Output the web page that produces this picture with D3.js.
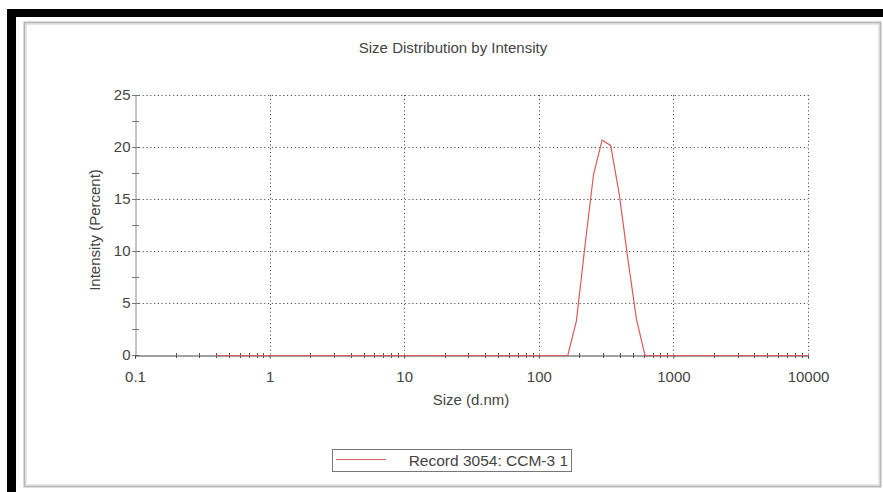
<!DOCTYPE html>
<html>
<head>
<meta charset="utf-8">
<script src="https://cdn.jsdelivr.net/npm/d3@7"></script>
<style>
  html, body { margin: 0; padding: 0; background: #fff; }
  svg { display: block; }
  text { font-family: "Liberation Sans", Arial, sans-serif; fill: #444; }
</style>
</head>
<body>
<svg id="chart" width="883" height="492"></svg>
<script>
// Size bins (d.nm), log-spaced from 0.4 to 10000
const sizes = [0.4, 0.4632, 0.5365, 0.6213, 0.7195, 0.8332, 0.9649, 1.117, 1.294, 1.499,
  1.736, 2.01, 2.328, 2.696, 3.122, 3.615, 4.187, 4.849, 5.615, 6.503,
  7.531, 8.721, 10.1, 11.7, 13.54, 15.69, 18.17, 21.04, 24.36, 28.21,
  32.67, 37.84, 43.82, 50.75, 58.77, 68.06, 78.82, 91.28, 105.7, 122.4,
  141.8, 164.2, 190.1, 220.2, 255.0, 295.3, 342.0, 396.1, 458.7, 531.2,
  615.1, 712.4, 825.0, 955.4, 1106, 1281, 1484, 1718, 1990, 2305,
  2669, 3091, 3580, 4145, 4801, 5560, 6439, 7456, 8635, 10000];

// Intensity (%) for each bin
const intensity = [0, 0, 0, 0, 0, 0, 0, 0, 0, 0,
  0, 0, 0, 0, 0, 0, 0, 0, 0, 0,
  0, 0, 0, 0, 0, 0, 0, 0, 0, 0,
  0, 0, 0, 0, 0, 0, 0, 0, 0, 0,
  0, 0, 3.3, 10.5, 17.4, 20.7, 20.2, 15.5, 9.3, 3.5,
  0, 0, 0, 0, 0, 0, 0, 0, 0, 0,
  0, 0, 0, 0, 0, 0, 0, 0, 0, 0];

const xTicks = [0.1, 1, 10, 100, 1000, 10000];
const xTickLabels = ["0.1", "1", "10", "100", "1000", "10000"];
const yTicks = [0, 5, 10, 15, 20, 25];
const yMinorTicks = [2.5, 7.5, 12.5, 17.5, 22.5];

const title = "Size Distribution by Intensity";
const xTitle = "Size (d.nm)";
const yTitle = "Intensity (Percent)";
const seriesName = "Record 3054: CCM-3 1";

const FONT = "Liberation Sans, Arial, sans-serif";
const LABEL_SIZE = 15;
const CURVE = "#dc5a5a";

const svg = d3.select("#chart");

// Outer black frame (left and top edges)
svg.append("rect").attr("x", 7).attr("y", 9).attr("width", 9).attr("height", 483).attr("fill", "#000");
svg.append("rect").attr("x", 7).attr("y", 9).attr("width", 876).attr("height", 8).attr("fill", "#000");

// Grey panel border with a soft inner edge
svg.append("rect").attr("x", 24.5).attr("y", 22.5).attr("width", 856).attr("height", 464)
  .attr("fill", "#fff").attr("stroke", "#b8b8b8").attr("stroke-width", 2);
svg.append("rect").attr("x", 26.5).attr("y", 24.5).attr("width", 852).attr("height", 460)
  .attr("fill", "none").attr("stroke", "#e6e6e6").attr("stroke-width", 1);

const x = d3.scaleLog().domain([0.1, 10000]).range([135, 808]);
const y = d3.scaleLinear().domain([0, 25]).range([355, 95]);

const gridColor = "#555";
const dash = "1.2,2.6";

// Horizontal gridlines
svg.append("g").selectAll("line").data(yTicks.filter(d => d > 0)).join("line")
  .attr("x1", x(0.1)).attr("x2", x(10000))
  .attr("y1", d => y(d) + 0.5).attr("y2", d => y(d) + 0.5)
  .attr("stroke", gridColor).attr("stroke-width", 1).attr("stroke-dasharray", dash);

// Vertical gridlines
svg.append("g").selectAll("line").data(xTicks.filter(d => d > 0.1)).join("line")
  .attr("x1", d => Math.round(x(d)) + 0.5).attr("x2", d => Math.round(x(d)) + 0.5)
  .attr("y1", y(25)).attr("y2", y(0))
  .attr("stroke", gridColor).attr("stroke-width", 1).attr("stroke-dasharray", dash);

// Y axis (labels only; ticks drawn across the axis below)
const yAxis = svg.append("g").attr("transform", `translate(${x(0.1) + 0.5},0)`)
  .call(d3.axisLeft(y).tickValues(yTicks).tickSize(0).tickPadding(5));
yAxis.select(".domain").attr("stroke", "#888");
yAxis.selectAll(".tick text").attr("font-size", LABEL_SIZE).attr("fill", "#444")
  .attr("font-family", FONT);

// Y ticks crossing the axis (major and minor)
svg.append("g").selectAll("line").data(yTicks.concat(yMinorTicks)).join("line")
  .attr("x1", x(0.1) - 3).attr("x2", x(0.1) + 4)
  .attr("y1", d => y(d) + 0.5).attr("y2", d => y(d) + 0.5)
  .attr("stroke", "#777");

// X axis
const xAxis = svg.append("g").attr("transform", `translate(0,${y(0) + 0.5})`)
  .call(d3.axisBottom(x).tickValues(xTicks).tickFormat((d, i) => xTickLabels[i]).tickSize(3).tickPadding(13));
xAxis.select(".domain").attr("stroke", "#444");
xAxis.selectAll(".tick line").attr("stroke", "#444");
xAxis.selectAll(".tick text").attr("font-size", LABEL_SIZE).attr("fill", "#444")
  .attr("font-family", FONT);

// X minor ticks (2..9 within each decade)
const xMinor = [];
for (let dec = 0.1; dec < 10000; dec *= 10) {
  for (let k = 2; k <= 9; k++) xMinor.push(+(dec * k).toPrecision(3));
}
svg.append("g").selectAll("line").data(xMinor).join("line")
  .attr("x1", d => Math.round(x(d)) + 0.5).attr("x2", d => Math.round(x(d)) + 0.5)
  .attr("y1", y(0) - 2).attr("y2", y(0) + 3)
  .attr("stroke", "#555");

// Distribution curve
const line = d3.line().x((d, i) => x(sizes[i])).y(d => y(d) + 0.5);
svg.append("path").datum(intensity)
  .attr("d", line).attr("fill", "none")
  .attr("stroke", CURVE).attr("stroke-width", 1.2);

// Titles
svg.append("text").attr("x", 453).attr("y", 53).attr("text-anchor", "middle")
  .attr("font-size", LABEL_SIZE).text(title);
svg.append("text").attr("x", 471).attr("y", 405).attr("text-anchor", "middle")
  .attr("font-size", LABEL_SIZE).text(xTitle);
svg.append("text").attr("transform", "translate(100,230) rotate(-90)").attr("text-anchor", "middle")
  .attr("font-size", LABEL_SIZE).text(yTitle);

// Legend
const legend = svg.append("g");
legend.append("rect").attr("x", 332.5).attr("y", 449.5).attr("width", 239).attr("height", 22)
  .attr("fill", "#fff").attr("stroke", "#777");
legend.append("line").attr("x1", 336).attr("x2", 386).attr("y1", 459.5).attr("y2", 459.5)
  .attr("stroke", CURVE).attr("stroke-width", 1);
legend.append("text").attr("x", 568).attr("y", 466).attr("text-anchor", "end")
  .attr("font-size", LABEL_SIZE + 0.5).text(seriesName);
</script>
</body>
</html>
